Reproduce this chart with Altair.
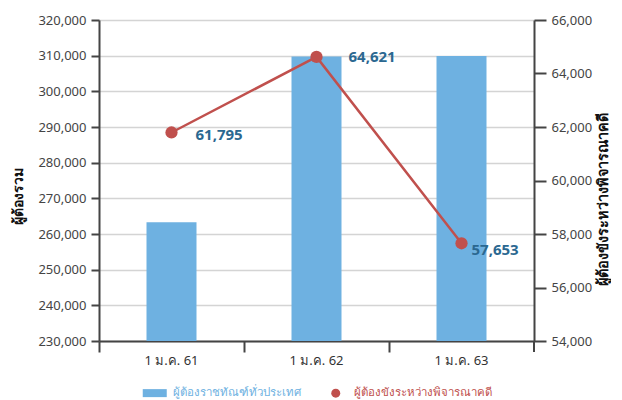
import altair as alt
import pandas as pd

dates = ["1 ม.ค. 61", "1 ม.ค. 62", "1 ม.ค. 63"]
total_prisoners = [263300, 309800, 309900]
pretrial = [61795, 64621, 57653]
series_names = ["ผู้ต้องราชทัณฑ์ทั่วประเทศ", "ผู้ต้องขังระหว่างพิจารณาคดี"]

left_ticks = [230000, 240000, 250000, 260000, 270000, 280000, 290000, 300000, 310000, 320000]
right_ticks = [54000, 56000, 58000, 60000, 62000, 64000, 66000]

BLUE = "#6eb1e1"
RED = "#c0504d"
LABEL_BLUE = "#2b6891"
AXIS = "#444444"
FONT = "Noto Sans"

df = pd.DataFrame({
    "date": dates,
    "total": total_prisoners,
    "pretrial": pretrial,
    "bar_series": [series_names[0]] * 3,
    "line_series": [series_names[1]] * 3,
})

x = alt.X("date:N", sort=dates, title=None,
          scale=alt.Scale(paddingInner=0, paddingOuter=0),
          axis=alt.Axis(bandPosition=0, labelAngle=0, labelFontSize=13, labelColor="#333333",
                        domainColor=AXIS, domainWidth=2, tickColor=AXIS, tickWidth=2, tickSize=11,
                        labelPadding=2, labelFont=FONT))

color_scale = alt.Scale(domain=series_names, range=[BLUE, RED])
shape_scale = alt.Scale(domain=series_names,
                        range=["M-2.667,-0.889H2.667V0.889H-2.667Z", "circle"])

legend = alt.Legend(title=None, orient="none", legendX=50, legendY=367, direction="horizontal",
                    symbolSize=81, labelFontSize=11.5, labelFont=FONT, columnPadding=29,
                    labelOffset=12, symbolStrokeWidth=0, labelLimit=400,
                    labelColor=alt.ExprRef(expr=f"datum.label == '{series_names[0]}' ? '{BLUE}' : '{RED}'"))

bars = alt.Chart(df).mark_bar(size=50, color=BLUE, clip=True).encode(
    x=x,
    y=alt.Y("total:Q", title="ผู้ต้องรวม",
            scale=alt.Scale(domain=[230000, 320000], zero=False, nice=False),
            axis=alt.Axis(values=left_ticks, format=",d", labelFontSize=13, labelColor=AXIS,
                          labelFont=FONT, domainColor=AXIS, domainWidth=2, tickColor=AXIS,
                          tickWidth=2, tickSize=8, labelPadding=5, gridColor="#d4d4d4",
                          gridWidth=1.5, titleFontSize=14, titleFontWeight="bold",
                          titleColor="#111111", titleFont=FONT, titlePadding=12, titleY=176)),
    color=alt.Color("bar_series:N", scale=color_scale, legend=legend),
    shape=alt.Shape("bar_series:N", scale=shape_scale, legend=legend),
)

line_y = alt.Y("pretrial:Q", title="ผู้ต้องขังระหว่างพิจารณาคดี",
               scale=alt.Scale(domain=[54000, 66000], zero=False, nice=False),
               axis=alt.Axis(orient="right", values=right_ticks, format=",d", labelFontSize=13,
                             labelColor=AXIS, labelFont=FONT, domainColor=AXIS, domainWidth=2,
                             tickColor=AXIS, tickWidth=2, tickSize=12, labelPadding=5, grid=False,
                             titleFontSize=14.5, titleFontWeight="bold", titleColor="#111111",
                             titleFont=FONT, titleAngle=270, titlePadding=19, titleY=179))

line = alt.Chart(df).mark_line(color=RED, strokeWidth=2.5).encode(x=x, y=line_y)
points = alt.Chart(df).mark_point(filled=True, size=150, opacity=1).encode(
    x=x, y=line_y,
    color=alt.Color("line_series:N", scale=color_scale, legend=legend),
    shape=alt.Shape("line_series:N", scale=shape_scale, legend=legend),
)

def label(i, dx, dy):
    return alt.Chart(df).transform_filter(alt.datum.date == dates[i]).mark_text(
        align="left", baseline="middle", dx=dx, dy=dy, fontSize=15, fontWeight="bold",
        color=LABEL_BLUE, font=FONT
    ).encode(x=x, y=line_y, text=alt.Text("pretrial:Q", format=",d"))

labels = label(0, 24, 3) + label(1, 32, 0) + label(2, 10, 7)

end_tick = alt.Chart(df).mark_rule(color=AXIS, strokeWidth=2).encode(
    x=alt.value(435), y=alt.value(321), y2=alt.value(332))

right_layer = alt.layer(line, points, labels)

chart = alt.layer(bars, right_layer, end_tick).resolve_scale(
    y="independent"
).properties(width=435, height=321).configure_view(stroke=None).configure(
    font=FONT, padding={"left": 3, "top": 6, "right": 0, "bottom": 0}
)

chart.save("out.html", embed_options={"renderer": "svg", "actions": False})
